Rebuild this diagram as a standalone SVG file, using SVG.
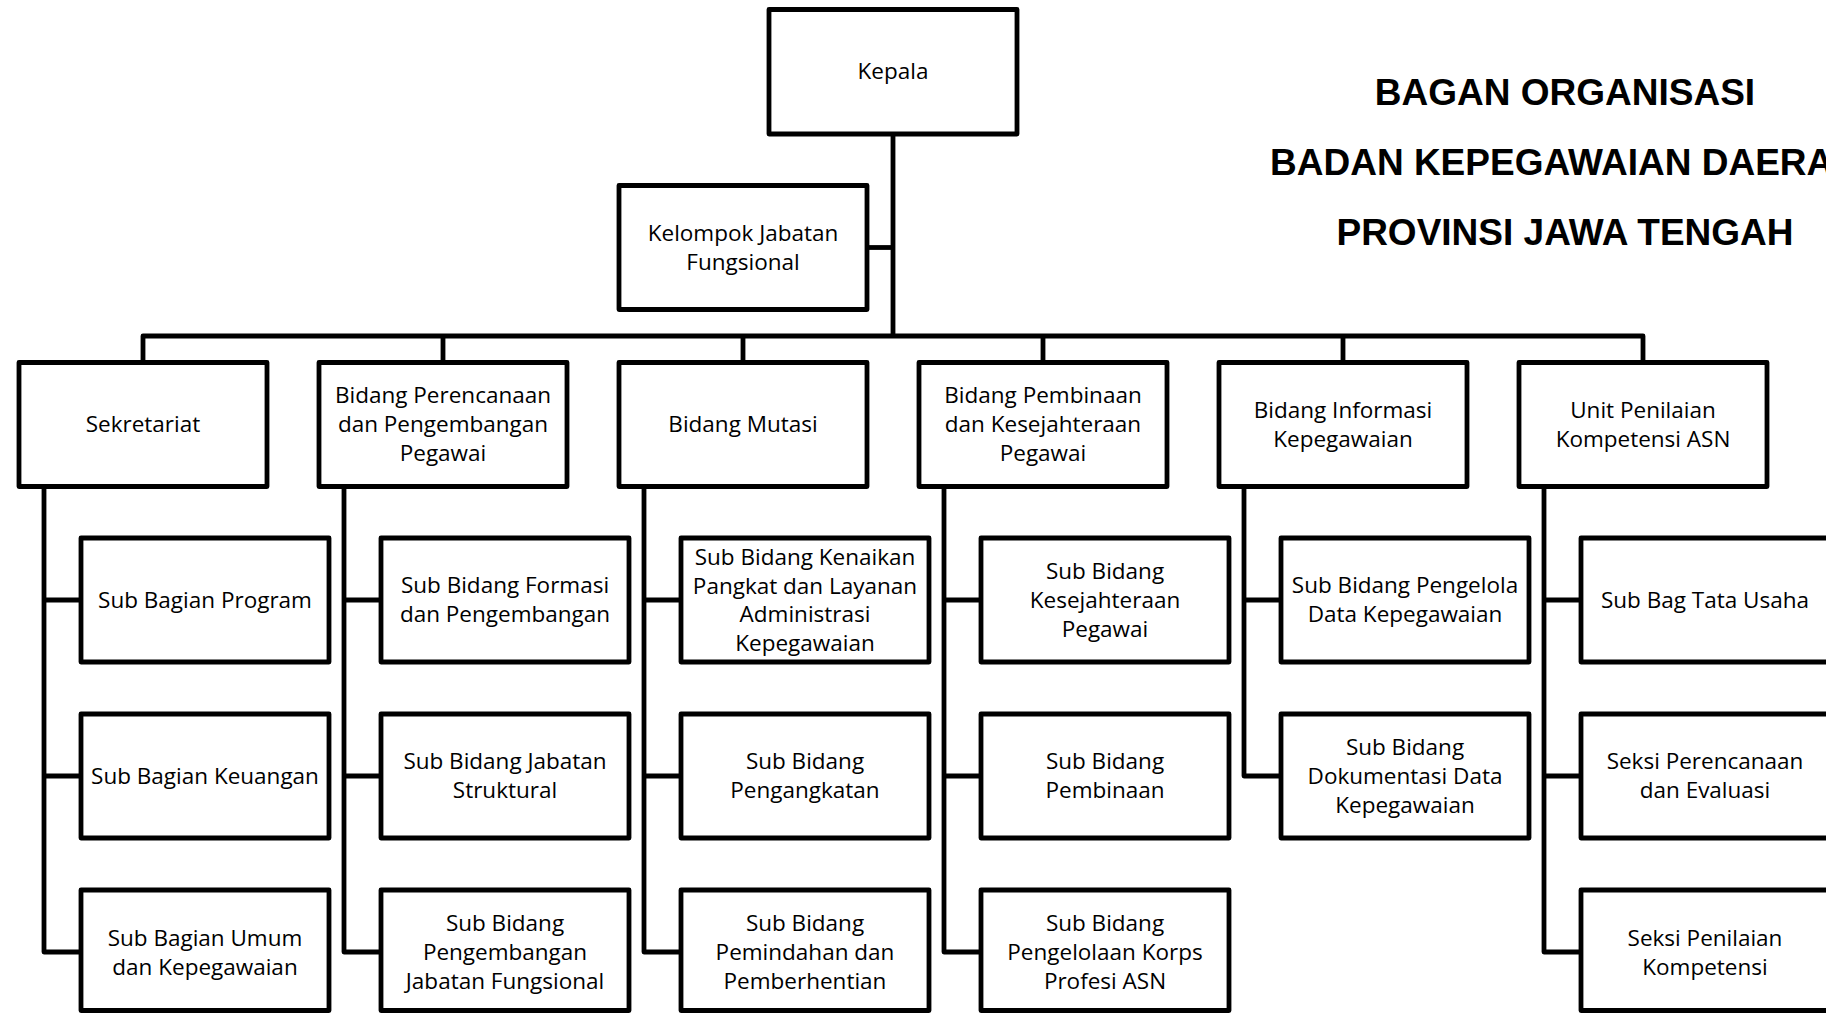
<svg xmlns="http://www.w3.org/2000/svg" width="1826" height="1013" viewBox="0 0 1826 1013">
<style>
  .box { fill: #ffffff; stroke: #000000; stroke-width: 4.8; stroke-linejoin: round; }
  .ln { fill: none; stroke: #000000; stroke-width: 4.8; stroke-linejoin: round; stroke-linecap: butt; }
  .t { font-family: "Open Sans", "Noto Sans", "Liberation Sans", sans-serif; font-size: 22.5px; fill: #000000; text-anchor: middle; }
  .title { font-family: "Liberation Sans", Arial, sans-serif; font-weight: bold; font-size: 37px; fill: #000000; text-anchor: middle; }
</style>
<rect x="0" y="0" width="1826" height="1013" fill="#ffffff"/>

<g id="connectors">
  <path class="ln" d="M893 134 V336"/>
  <path class="ln" d="M867 247.5 H893"/>
  <path class="ln" d="M143 362.5 V336 H1643 V362.5"/>
  <path class="ln" d="M443 336 V362.5 M743 336 V362.5 M1043 336 V362.5 M1343 336 V362.5"/>
  <path class="ln" d="M44 486.5 V952 H81 M44 600 H81 M44 776 H81"/>
  <path class="ln" d="M344 486.5 V952 H381 M344 600 H381 M344 776 H381"/>
  <path class="ln" d="M644 486.5 V952 H681 M644 600 H681 M644 776 H681"/>
  <path class="ln" d="M944 486.5 V952 H981 M944 600 H981 M944 776 H981"/>
  <path class="ln" d="M1244 486.5 V776 H1281 M1244 600 H1281"/>
  <path class="ln" d="M1544 486.5 V952 H1581 M1544 600 H1581 M1544 776 H1581"/>
</g>

<g id="title">
  <text class="title" x="1565" y="105">BAGAN ORGANISASI</text>
  <text class="title" x="1565" y="175">BADAN KEPEGAWAIAN DAERAH</text>
  <text class="title" x="1565" y="245">PROVINSI JAWA TENGAH</text>
</g>

<g id="kepala">
  <rect class="box" x="769" y="9.5" width="248" height="124.5"/>
  <text class="t" x="893" y="79">Kepala</text>
</g>
<g id="kelompok">
  <rect class="box" x="619" y="185.5" width="248" height="124"/>
  <text class="t" x="743" y="240.5">Kelompok Jabatan</text>
  <text class="t" x="743" y="269.5">Fungsional</text>
</g>

<!-- Column 1 -->
<g id="sekretariat">
  <rect class="box" x="19" y="362.5" width="248" height="124"/>
  <text class="t" x="143" y="432">Sekretariat</text>
</g>
<g id="sub-program">
  <rect class="box" x="81" y="538" width="248" height="124"/>
  <text class="t" x="205" y="607.5">Sub Bagian Program</text>
</g>
<g id="sub-keuangan">
  <rect class="box" x="81" y="714" width="248" height="124"/>
  <text class="t" x="205" y="783.5">Sub Bagian Keuangan</text>
</g>
<g id="sub-umum">
  <rect class="box" x="81" y="890" width="248" height="120.5"/>
  <text class="t" x="205" y="945.5">Sub Bagian Umum</text>
  <text class="t" x="205" y="974.5">dan Kepegawaian</text>
</g>

<!-- Column 2 -->
<g id="bidang-perencanaan">
  <rect class="box" x="319" y="362.5" width="248" height="124"/>
  <text class="t" x="443" y="403">Bidang Perencanaan</text>
  <text class="t" x="443" y="432">dan Pengembangan</text>
  <text class="t" x="443" y="461">Pegawai</text>
</g>
<g id="sub-formasi">
  <rect class="box" x="381" y="538" width="248" height="124"/>
  <text class="t" x="505" y="593">Sub Bidang Formasi</text>
  <text class="t" x="505" y="622">dan Pengembangan</text>
</g>
<g id="sub-struktural">
  <rect class="box" x="381" y="714" width="248" height="124"/>
  <text class="t" x="505" y="769">Sub Bidang Jabatan</text>
  <text class="t" x="505" y="798">Struktural</text>
</g>
<g id="sub-jf">
  <rect class="box" x="381" y="890" width="248" height="120.5"/>
  <text class="t" x="505" y="930.5">Sub Bidang</text>
  <text class="t" x="505" y="959.5">Pengembangan</text>
  <text class="t" x="505" y="988.5">Jabatan Fungsional</text>
</g>

<!-- Column 3 -->
<g id="bidang-mutasi">
  <rect class="box" x="619" y="362.5" width="248" height="124"/>
  <text class="t" x="743" y="432">Bidang Mutasi</text>
</g>
<g id="sub-kenaikan">
  <rect class="box" x="681" y="538" width="248" height="124"/>
  <text class="t" x="805" y="565">Sub Bidang Kenaikan</text>
  <text class="t" x="805" y="593.7">Pangkat dan Layanan</text>
  <text class="t" x="805" y="622.4">Administrasi</text>
  <text class="t" x="805" y="651.1">Kepegawaian</text>
</g>
<g id="sub-pengangkatan">
  <rect class="box" x="681" y="714" width="248" height="124"/>
  <text class="t" x="805" y="769">Sub Bidang</text>
  <text class="t" x="805" y="798">Pengangkatan</text>
</g>
<g id="sub-pemindahan">
  <rect class="box" x="681" y="890" width="248" height="120.5"/>
  <text class="t" x="805" y="930.5">Sub Bidang</text>
  <text class="t" x="805" y="959.5">Pemindahan dan</text>
  <text class="t" x="805" y="988.5">Pemberhentian</text>
</g>

<!-- Column 4 -->
<g id="bidang-pembinaan">
  <rect class="box" x="919" y="362.5" width="248" height="124"/>
  <text class="t" x="1043" y="403">Bidang Pembinaan</text>
  <text class="t" x="1043" y="432">dan Kesejahteraan</text>
  <text class="t" x="1043" y="461">Pegawai</text>
</g>
<g id="sub-kesejahteraan">
  <rect class="box" x="981" y="538" width="248" height="124"/>
  <text class="t" x="1105" y="578.5">Sub Bidang</text>
  <text class="t" x="1105" y="607.5">Kesejahteraan</text>
  <text class="t" x="1105" y="636.5">Pegawai</text>
</g>
<g id="sub-pembinaan">
  <rect class="box" x="981" y="714" width="248" height="124"/>
  <text class="t" x="1105" y="769">Sub Bidang</text>
  <text class="t" x="1105" y="798">Pembinaan</text>
</g>
<g id="sub-korps">
  <rect class="box" x="981" y="890" width="248" height="120.5"/>
  <text class="t" x="1105" y="930.5">Sub Bidang</text>
  <text class="t" x="1105" y="959.5">Pengelolaan Korps</text>
  <text class="t" x="1105" y="988.5">Profesi ASN</text>
</g>

<!-- Column 5 -->
<g id="bidang-informasi">
  <rect class="box" x="1219" y="362.5" width="248" height="124"/>
  <text class="t" x="1343" y="417.5">Bidang Informasi</text>
  <text class="t" x="1343" y="446.5">Kepegawaian</text>
</g>
<g id="sub-pengelola-data">
  <rect class="box" x="1281" y="538" width="248" height="124"/>
  <text class="t" x="1405" y="593">Sub Bidang Pengelola</text>
  <text class="t" x="1405" y="622">Data Kepegawaian</text>
</g>
<g id="sub-dokumentasi">
  <rect class="box" x="1281" y="714" width="248" height="124"/>
  <text class="t" x="1405" y="754.5">Sub Bidang</text>
  <text class="t" x="1405" y="783.5">Dokumentasi Data</text>
  <text class="t" x="1405" y="812.5">Kepegawaian</text>
</g>

<!-- Column 6 -->
<g id="unit-penilaian">
  <rect class="box" x="1519" y="362.5" width="248" height="124"/>
  <text class="t" x="1643" y="417.5">Unit Penilaian</text>
  <text class="t" x="1643" y="446.5">Kompetensi ASN</text>
</g>
<g id="sub-tata-usaha">
  <rect class="box" x="1581" y="538" width="248" height="124"/>
  <text class="t" x="1705" y="607.5">Sub Bag Tata Usaha</text>
</g>
<g id="seksi-perencanaan">
  <rect class="box" x="1581" y="714" width="248" height="124"/>
  <text class="t" x="1705" y="769">Seksi Perencanaan</text>
  <text class="t" x="1705" y="798">dan Evaluasi</text>
</g>
<g id="seksi-penilaian">
  <rect class="box" x="1581" y="890" width="248" height="120.5"/>
  <text class="t" x="1705" y="945.5">Seksi Penilaian</text>
  <text class="t" x="1705" y="974.5">Kompetensi</text>
</g>
</svg>
